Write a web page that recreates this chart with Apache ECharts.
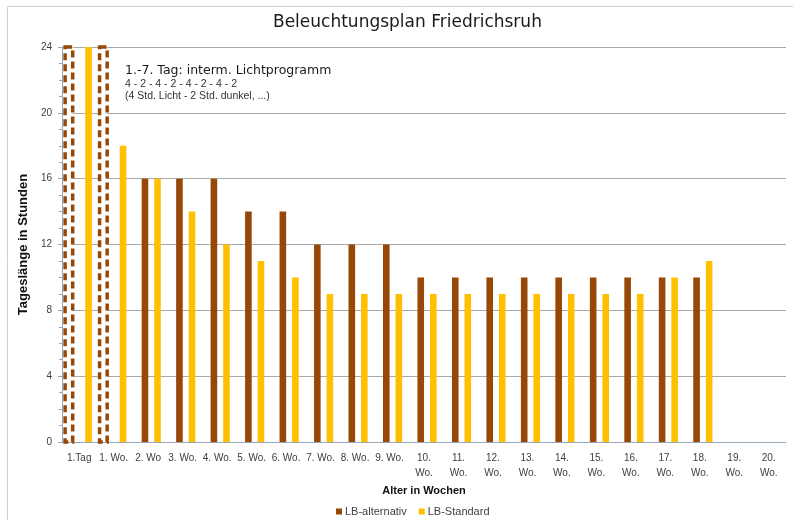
<!DOCTYPE html>
<html>
<head>
<meta charset="utf-8">
<title>Beleuchtungsplan Friedrichsruh</title>
<script src="https://cdn.jsdelivr.net/npm/echarts@6/dist/echarts.min.js"></script>
<style>
  html, body { margin: 0; padding: 0; background: #fff; }
  #chart { width: 793px; height: 520px; }
</style>
</head>
<body>
<div id="chart"></div>
<script>
  // Daten
  let weeks = ['1.Tag', '1. Wo.', '2. Wo', '3. Wo.', '4. Wo.', '5. Wo.', '6. Wo.', '7. Wo.', '8. Wo.', '9. Wo.',
    '10.\nWo.', '11.\nWo.', '12.\nWo.', '13.\nWo.', '14.\nWo.', '15.\nWo.', '16.\nWo.', '17.\nWo.', '18.\nWo.', '19.\nWo.', '20.\nWo.'];
  let lbAlternativ = [null, null, 16, 16, 16, 14, 14, 12, 12, 12, 10, 10, 10, 10, 10, 10, 10, 10, 10, null, null];
  let lbStandard = [24, 18, 16, 14, 12, 11, 10, 9, 9, 9, 9, 9, 9, 9, 9, 9, 9, 10, 11, null, null];
  // 1.-7. Tag intermittierend (gestrichelte Balken)
  let lbInterm = [24, 24];
  let yTicks = [0, 4, 8, 12, 16, 20, 24];

  const brown = '#974706';
  const gold = '#FFC000';

  let myChart = echarts.init(document.getElementById('chart'));

  myChart.setOption({
    animation: false,
    title: {
      text: 'Beleuchtungsplan Friedrichsruh',
      left: 268,
      top: 9,
      textStyle: { fontFamily: 'DejaVu Sans', fontSize: 17, fontWeight: 'normal', color: '#1a1a1a' }
    },
    legend: {
      data: ['LB-alternativ', 'LB-Standard'],
      left: 331,
      top: 501,
      icon: 'rect',
      itemWidth: 6,
      itemHeight: 6,
      itemGap: 12,
      textStyle: { fontFamily: 'Liberation Sans', fontSize: 11, color: '#404040', padding: [0, 0, 0, -2] }
    },
    grid: { left: 62, right: 7, top: 47, bottom: 78, containLabel: false },
    xAxis: {
      type: 'category',
      data: weeks,
      name: 'Alter in Wochen',
      nameLocation: 'middle',
      nameGap: 33,
      nameTextStyle: { fontFamily: 'Liberation Sans', fontSize: 11, fontWeight: 'bold', color: '#111' },
      axisLine: { lineStyle: { color: '#98a8ba' } },
      axisTick: { length: 4, lineStyle: { color: '#98a8ba' } },
      axisLabel: { interval: 0, margin: 9, fontFamily: 'Liberation Sans', fontSize: 10, lineHeight: 15, color: '#404040' }
    },
    yAxis: {
      type: 'value',
      min: yTicks[0],
      max: yTicks[yTicks.length - 1],
      interval: 4,
      name: 'Tageslänge in Stunden',
      nameLocation: 'middle',
      nameGap: 29,
      nameTextStyle: { fontFamily: 'Liberation Sans', fontSize: 13, fontWeight: 'bold', color: '#111' },
      axisLine: { show: true, lineStyle: { color: '#98a8ba' } },
      axisTick: { show: true, length: 4, lineStyle: { color: '#98a8ba' } },
      minorTick: { show: true, splitNumber: 4, length: 3, lineStyle: { color: '#98a8ba' } },
      axisLabel: { margin: 10, fontFamily: 'Liberation Sans', fontSize: 10, color: '#404040' },
      splitLine: { lineStyle: { color: '#a9a9a9' } }
    },
    graphic: [
      {
        type: 'rect', left: 5, top: 4, silent: true, z: -1,
        shape: { width: 800, height: 600 },
        style: { fill: 'none', stroke: '#cfcfcf', lineWidth: 1 }
      },
      {
        type: 'text', left: 125, top: 64,
        style: { text: '1.-7. Tag: interm. Lichtprogramm', font: '12.5px "DejaVu Sans"', fill: '#1a1a1a' }
      },
      {
        type: 'text', left: 125, top: 79,
        style: { text: '4 - 2 - 4 - 2 - 4 - 2 - 4 - 2', font: '10.5px "Liberation Sans"', fill: '#333' }
      },
      {
        type: 'text', left: 125, top: 91,
        style: { text: '(4 Std. Licht - 2 Std. dunkel, ...)', font: '10.5px "Liberation Sans"', fill: '#333' }
      }
    ],
    series: [
      {
        // leerer Platzhalter, schiebt das Balkenpaar etwas nach rechts wie im Original
        name: 'spacer',
        type: 'bar',
        data: [],
        barWidth: 3.2,
        silent: true
      },
      {
        name: 'LB-alternativ',
        type: 'bar',
        data: lbAlternativ,
        barWidth: 6.6,
        barGap: '90%',
        itemStyle: { color: brown }
      },
      {
        name: 'LB-Standard',
        type: 'bar',
        data: lbStandard,
        barWidth: 6.6,
        barGap: '90%',
        itemStyle: { color: gold }
      },
      {
        name: 'LB-interm',
        type: 'custom',
        data: lbInterm.map(function (v, i) { return [i, v]; }),
        encode: { x: 0, y: 1 },
        z: 3,
        renderItem: function (params, api) {
          let top = api.coord([api.value(0), api.value(1)]);
          let base = api.coord([api.value(0), 0]);
          let band = api.size([1, 0])[0];
          let w = band * 0.22;
          let cx = top[0] - band * 0.3;
          return {
            type: 'rect',
            shape: { x: cx - w / 2, y: top[1], width: w, height: base[1] - top[1] },
            style: { fill: '#fff', stroke: brown, lineWidth: 3.5, lineDash: [7, 4] }
          };
        }
      }
    ]
  });
</script>
</body>
</html>
